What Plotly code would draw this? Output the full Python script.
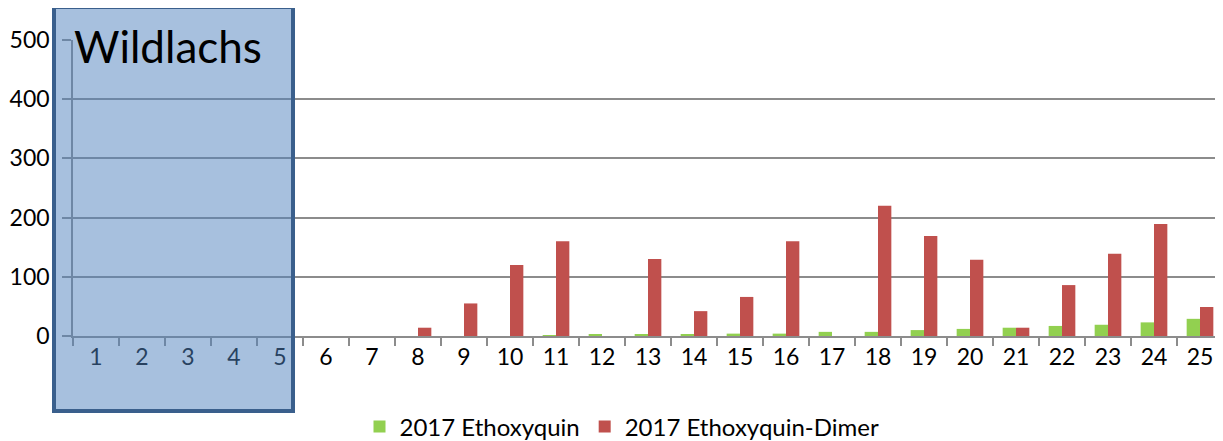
import plotly.graph_objects as go

# sample numbers 1..25 on the x axis
samples = [str(i) for i in range(1, 26)]

# values
ethoxyquin = [0, 0, 0, 0, 0, 0, 0, 0, 0, 0, 1, 2, 2, 2, 4, 4, 7, 7, 10, 12, 14, 17, 19, 23, 29]
ethoxyquin_dimer = [0, 0, 0, 0, 0, 0, 0, 14, 55, 120, 160, 0, 130, 42, 66, 160, 0, 220, 169, 129, 14, 86, 139, 189, 49]

GREEN = "#92D050"
RED = "#C0504D"
GRID = "#8C8C8C"
FONT = "Lato, Calibri, 'Open Sans', sans-serif"

# the page body has an 8px margin, so the figure is drawn 8px in
OFF = 8
W, H = 1223 - OFF, 441 - OFF
# plot area in page pixels: x 73..1215, y 40..336
L, R, T, B = 73 - OFF, 1223 - 1215 - OFF, 40 - OFF, 441 - 336
pw, ph = W - L - R, H - T - B


def px_x(x):
    # page pixel -> paper x
    return (x - OFF - L) / pw


def px_y(y):
    # page pixel -> paper y
    return (H - B - (y - OFF)) / ph


fig = go.Figure()
fig.add_trace(
    go.Bar(
        x=samples,
        y=ethoxyquin,
        name="2017 Ethoxyquin",
        marker=dict(color=GREEN, line=dict(width=0)),
    )
)
fig.add_trace(
    go.Bar(
        x=samples,
        y=ethoxyquin_dimer,
        name="2017 Ethoxyquin-Dimer",
        marker=dict(color=RED, line=dict(width=0)),
    )
)

# translucent "Wildlachs" box over samples 1-5
fig.add_shape(
    type="rect",
    xref="paper",
    yref="paper",
    x0=px_x(54),
    x1=px_x(293),
    y0=px_y(411),
    y1=px_y(7),
    fillcolor="rgba(79,129,189,0.5)",
    line=dict(color="#3A5F8C", width=4),
    layer="above",
)
fig.add_annotation(
    text="Wildlachs",
    xref="paper",
    yref="paper",
    x=px_x(72),
    y=px_y(46),
    xanchor="left",
    yanchor="middle",
    showarrow=False,
    font=dict(family=FONT, size=44, color="black"),
)

fig.update_layout(
    width=W,
    height=H,
    barmode="group",
    bargap=0.42,
    bargroupgap=0,
    plot_bgcolor="white",
    paper_bgcolor="white",
    margin=dict(l=L, r=R, t=T, b=B, autoexpand=False),
    font=dict(family=FONT, size=23, color="black"),
    legend=dict(
        orientation="h",
        x=px_x(622),
        xanchor="center",
        y=px_y(427),
        yanchor="middle",
        font=dict(size=24),
        itemwidth=30,
    ),
    xaxis=dict(
        type="category",
        tickson="boundaries",
        ticks="outside",
        ticklen=8,
        tickcolor=GRID,
        tickwidth=1.5,
        showline=True,
        linecolor=GRID,
        linewidth=1.5,
        showgrid=False,
    ),
    yaxis=dict(
        range=[0, 500],
        dtick=100,
        showgrid=True,
        gridcolor=GRID,
        gridwidth=1.5,
        ticks="outside",
        ticklen=9,
        tickcolor=GRID,
        tickwidth=1.5,
        ticklabelstandoff=8,
        showline=True,
        linecolor=GRID,
        linewidth=1.5,
        zeroline=False,
    ),
)

fig.write_html("out.html")
